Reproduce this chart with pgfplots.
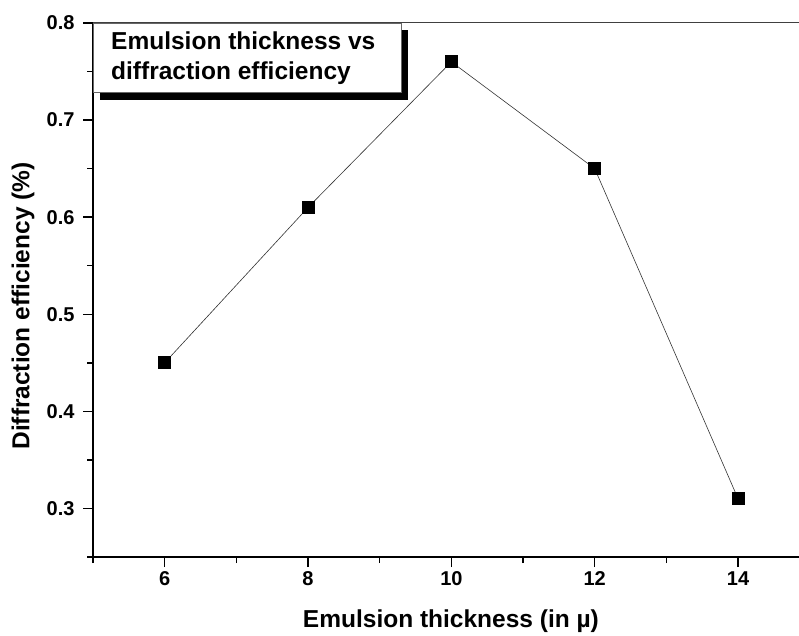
\documentclass[border=0pt]{standalone}
\usepackage{fontspec}
\setmainfont{Liberation Sans}
\usepackage{pgfplots}
\pgfplotsset{compat=1.18}
\begin{document}
\begin{tikzpicture}[x=1pt,y=1pt]
\begin{axis}[
  at={(93pt,78pt)}, anchor=south west,
  scale only axis, width=706pt, height=534pt,
  xmin=5, xmax=14.85, ymin=0.25, ymax=0.8,
  axis x line*=bottom, axis y line*=left,
  axis line style={black, line width=1.5pt, -},
  xtick={6,8,10,12,14}, minor xtick={5,7,9,11,13},
  ytick={0.3,0.4,0.5,0.6,0.7,0.8}, minor ytick={0.25,0.35,0.45,0.55,0.65,0.75},
  tick align=outside, major tick length=10pt, minor tick length=6pt,
  every tick/.style={black, line width=1.5pt},
  every minor tick/.style={black, line width=1.5pt},
  xticklabel={\pgfmathprintnumber[assume math mode=true]{\tick}},
  yticklabel={\pgfmathprintnumber[assume math mode=true,fixed,zerofill,precision=1]{\tick}},
  yticklabel style={font=\bfseries\fontsize{20}{20}\selectfont, xshift=-5pt},
  xticklabel style={font=\bfseries\fontsize{20}{20}\selectfont, yshift=-1pt},
  xlabel={Emulsion thickness (in µ)},
  ylabel={Diffraction efficiency (\%)},
  label style={font=\bfseries\fontsize{24.5}{24.5}\selectfont},
  xlabel style={at={(rel axis cs:0.507,-0.12)}, anchor=center},
  ylabel style={at={(rel axis cs:-0.099,0.47)}, anchor=center, rotate=0},
  clip=false,
]
\draw[black!75, line width=1pt] (axis cs:5,0.8) -- (axis cs:14.85,0.8);
\addplot[black!80, line width=0.6pt, mark=square*, mark size=6pt, mark options={fill=black, draw=black, line width=0pt}]
  coordinates {(6,0.45) (8,0.61) (10,0.76) (12,0.65) (14,0.31)};
\fill[black] ([xshift=7pt,yshift=-7pt]rel axis cs:0,1) ++(0pt,-0.5pt) rectangle ++(308pt,-69pt);
\draw[black!60, line width=0.6pt, fill=white] (rel axis cs:0,1) ++(0pt,-0.5pt) rectangle ++(308pt,-69pt);
\node[anchor=north west, align=left, inner sep=0pt, font=\bfseries\fontsize{24.5}{30}\selectfont]
  at ([xshift=18pt,yshift=-9pt]rel axis cs:0,1) {Emulsion thickness vs\\diffraction efficiency};
\end{axis}
\pgfresetboundingbox
\path (0,0) rectangle (799,635);
\end{tikzpicture}
\end{document}
